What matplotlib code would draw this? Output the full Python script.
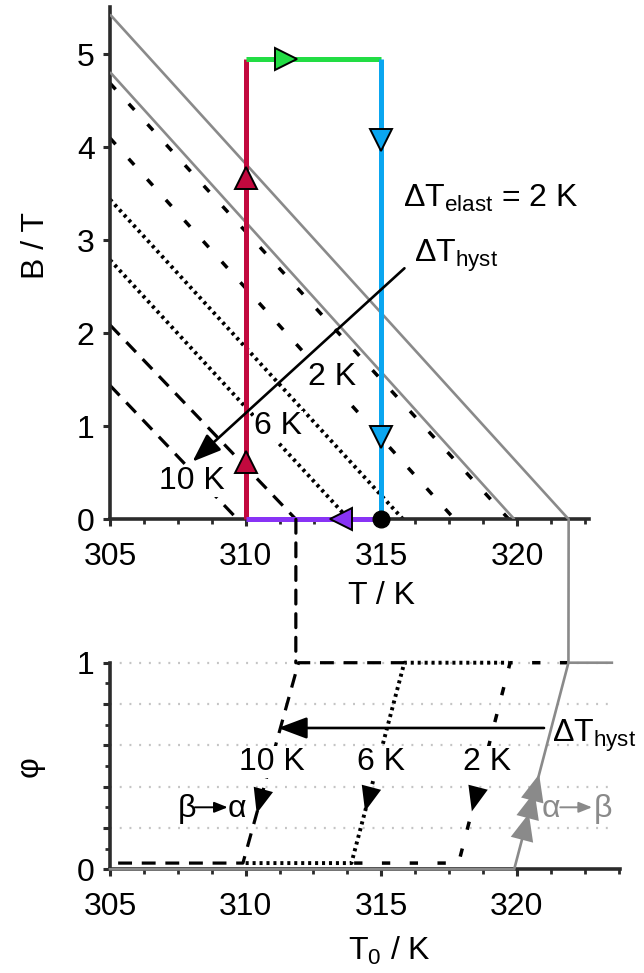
import numpy as np
import matplotlib
matplotlib.use('Agg')
import matplotlib.pyplot as plt
from matplotlib.patches import ConnectionPatch
from matplotlib.ticker import MultipleLocator, FixedLocator, FuncFormatter

plt.rcParams['font.family'] = ['Liberation Sans', 'DejaVu Sans']
plt.rcParams['mathtext.default'] = 'regular'
plt.rcParams['lines.scale_dashes'] = False

# ---------------- data (top: B-T phase diagram) ----------------
T_left = 305.0
gray_T0 = [319.9, 321.9]          # T at B = 0
gray_B_left = [4.81, 5.43]        # B at T = 305
hyst10_T0 = [309.7, 311.85]
hyst10_B_left = [1.44, 2.09]
hyst6_T0 = [313.8, 315.8]
hyst6_B_left = [2.79, 3.44]
hyst2_T0 = [317.7, 319.7]
hyst2_B_left = [4.10, 4.69]

cycle_T_low = 310.0
cycle_T_high = 315.0
cycle_B_max = 4.95
red_arrow_B = [0.62, 3.67]
green_arrow_T = [311.5]
blue_arrow_B = [4.08, 0.89]
purple_arrow_T = [313.5]

hyst_arrow_start = (315.85, 2.70)
hyst_arrow_end = (308.04, 0.62)
top_labels = ['2 K', '6 K', '10 K']
top_label_T = [313.2, 311.2, 308.0]
top_label_B = [1.53, 1.00, 0.41]

# ---------------- data (bottom: phase fraction) ----------------
curve10_T = [305.3, 309.9, 311.95, 316.0]
curve10_phi = [0.03, 0.03, 1.0, 1.0]
curve6_T = [310.0, 313.9, 315.85, 319.7]
curve6_phi = [0.03, 0.03, 1.0, 1.0]
curve2_T = [314.0, 317.85, 319.75, 322.0]
curve2_phi = [0.03, 0.03, 1.0, 1.0]
heat_T = [305.0, 319.9, 321.9, 323.5]
heat_phi = [0.0, 0.0, 1.0, 1.0]

cool_arrow_phi = [0.27, 0.28, 0.28]
heat_arrow_phi = [0.27, 0.375, 0.46]
bottom_labels = ['10 K', '6 K', '2 K']
bottom_label_T = [310.95, 315.0, 318.9]
bottom_label_phi = [0.52, 0.52, 0.52]
bottom_hyst_arrow = (321.0, 311.2, 0.684)

# transition direction labels: (from-phase, to-phase)
cool_label = ('β', 'α')
cool_label_T = [307.84, 308.13, 309.34, 309.68]   # letter, arrow start, arrow end, letter
heat_label = ('α', 'β')
heat_label_T = [321.26, 321.6, 322.77, 323.17]
trans_label_phi = 0.29

# ---------------- styles ----------------
RED = '#C2093E'
GREEN = '#22DD44'
BLUE = '#0AA6F0'
PURPLE = '#8833F5'
GRAY = '#8a8a8a'
SPINE = '#2b2b2b'
DASHED = (0, (10, 7))
DOTTED = (0, (2.2, 2.8))
DASHDOT = (0, (6, 14))
FS = 23

fig = plt.figure(figsize=(6.44, 9.73), dpi=100)
ax1 = fig.add_axes([0.1708, 0.4663, 0.7438, 0.5265])
ax2 = fig.add_axes([0.1708, 0.1066, 0.7919, 0.2123])

for ax in (ax1, ax2):
    for s in ('top', 'right'):
        ax.spines[s].set_visible(False)
    for s in ('left', 'bottom'):
        ax.spines[s].set_linewidth(2.6)
        ax.spines[s].set_color(SPINE)
    ax.tick_params(which='both', direction='out', color=SPINE, labelsize=FS)
    ax.tick_params(which='major', length=5, width=2.2)
    ax.tick_params(which='minor', length=3.5, width=2.0)
    ax.tick_params(axis='x', pad=11)
    ax.tick_params(axis='y', pad=6)

# ---------- top axes ----------
ax1.set_xlim(305, 322.65)
ax1.set_ylim(0, 5.51)
ax1.xaxis.set_major_locator(MultipleLocator(5))
ax1.xaxis.set_minor_locator(MultipleLocator(1.25))
ax1.yaxis.set_major_locator(MultipleLocator(1))

def line_pair(ax, T0s, Bls, **kw):
    for T0, Bl in zip(T0s, Bls):
        ax.plot([T_left, T0], [Bl, 0], solid_capstyle='butt', **kw)

line_pair(ax1, gray_T0, gray_B_left, color=GRAY, lw=1.9, zorder=3)
line_pair(ax1, hyst10_T0, hyst10_B_left, color='black', lw=2.3, linestyle=DASHED, zorder=2)
line_pair(ax1, hyst6_T0, hyst6_B_left, color='black', lw=2.8, linestyle=DOTTED, zorder=2)
line_pair(ax1, hyst2_T0, hyst2_B_left, color='black', lw=2.5, linestyle=DASHDOT, zorder=2)

ax1.plot([cycle_T_low, cycle_T_low], [0, cycle_B_max], color=RED, lw=3.6, zorder=5,
         solid_capstyle='butt', clip_on=False)
ax1.plot([cycle_T_low, cycle_T_high], [cycle_B_max, cycle_B_max], color=GREEN, lw=3.6,
         zorder=5, solid_capstyle='butt')
ax1.plot([cycle_T_high, cycle_T_high], [cycle_B_max, 0], color=BLUE, lw=3.6, zorder=5,
         solid_capstyle='butt', clip_on=False)
ax1.plot([cycle_T_high, cycle_T_low], [0, 0], color=PURPLE, lw=3.6, zorder=5,
         solid_capstyle='butt', clip_on=False)

mk = dict(markersize=16, markeredgecolor='black', markeredgewidth=1.4, linestyle='none',
          zorder=7, clip_on=False)
ax1.plot([cycle_T_low] * len(red_arrow_B), red_arrow_B, marker='^', color=RED, **mk)
ax1.plot(green_arrow_T, [cycle_B_max] * len(green_arrow_T), marker='>', color=GREEN, **mk)
ax1.plot([cycle_T_high] * len(blue_arrow_B), blue_arrow_B, marker='v', color=BLUE, **mk)
ax1.plot(purple_arrow_T, [0] * len(purple_arrow_T), marker='<', color=PURPLE, **mk)
ax1.plot([cycle_T_high], [0], marker='o', color='black', markersize=12, linestyle='none',
         zorder=8, clip_on=False)

ax1.annotate('', xy=hyst_arrow_end, xytext=hyst_arrow_start,
             arrowprops=dict(arrowstyle='-|>,head_length=0.8,head_width=0.3',
                             color='black', lw=1.9, mutation_scale=22,
                             shrinkA=0, shrinkB=0), zorder=6)
ax1.text(316.2, 2.77, r'ΔT$_{hyst}$', fontsize=FS, ha='left', va='baseline', zorder=6)
ax1.text(315.8, 3.36, r'ΔT$_{elast}$ = 2 K', fontsize=FS, ha='left', va='baseline', zorder=6)
for lab, t, b in zip(top_labels, top_label_T, top_label_B):
    ax1.text(t, b, lab, fontsize=FS, ha='center', va='center', zorder=4,
             bbox=dict(facecolor='white', edgecolor='none', pad=0.5))

ax1.set_xlabel('T / K', fontsize=FS, va='center')
ax1.xaxis.set_label_coords(0.566, -0.150)
ax1.set_ylabel('B / T', fontsize=FS, va='center')
ax1.yaxis.set_label_coords(-0.1545, 0.535)

# ---------- bottom axes ----------
ax2.set_xlim(305, 323.8)
ax2.set_ylim(0, 1)
ax2.xaxis.set_major_locator(MultipleLocator(5))
ax2.xaxis.set_minor_locator(MultipleLocator(1.25))
ax2.yaxis.set_major_locator(FixedLocator([0, 0.2, 0.4, 0.6, 0.8, 1.0]))
ax2.yaxis.set_minor_locator(FixedLocator([0.1, 0.3, 0.5, 0.7, 0.9]))
ax2.yaxis.set_major_formatter(FuncFormatter(
    lambda v, p: '%d' % round(v) if abs(v - round(v)) < 1e-6 else ''))
for g in [0.2, 0.4, 0.6, 0.8, 1.0]:
    ax2.axhline(g, xmin=0, xmax=(323.55 - 305) / (323.8 - 305), color='#c4c4c4',
                lw=1.6, linestyle=(0, (1.4, 5.6)), zorder=1, clip_on=False)

ax2.plot(heat_T, heat_phi, color=GRAY, lw=1.9, zorder=4, clip_on=False)
ax2.plot(curve10_T, curve10_phi, color='black', lw=2.3, linestyle=DASHED, zorder=3, clip_on=False)
ax2.plot(curve6_T, curve6_phi, color='black', lw=2.8, linestyle=DOTTED, zorder=3, clip_on=False)
ax2.plot(curve2_T, curve2_phi, color='black', lw=2.5, linestyle=DASHDOT, zorder=3, clip_on=False)

def rise_T(Ts, ph, p):
    return np.interp(p, [ph[1], ph[2]], [Ts[1], Ts[2]])

for (Ts, ph), p in zip([(curve10_T, curve10_phi), (curve6_T, curve6_phi),
                        (curve2_T, curve2_phi)], cool_arrow_phi):
    ax2.annotate('', xy=(rise_T(Ts, ph, p), p),
                 xytext=(rise_T(Ts, ph, p + 0.1), p + 0.1),
                 arrowprops=dict(arrowstyle='-|>,head_length=0.75,head_width=0.3',
                                 color='black', lw=0, mutation_scale=24,
                                 shrinkA=0, shrinkB=0), zorder=6)
for p in heat_arrow_phi:
    ax2.annotate('', xy=(rise_T(heat_T, heat_phi, p), p),
                 xytext=(rise_T(heat_T, heat_phi, p - 0.1), p - 0.1),
                 arrowprops=dict(arrowstyle='-|>,head_length=0.75,head_width=0.32',
                                 color=GRAY, lw=0, mutation_scale=26,
                                 shrinkA=0, shrinkB=0), zorder=6)

x0, x1, yh = bottom_hyst_arrow
ax2.annotate('', xy=(x1, yh), xytext=(x0, yh),
             arrowprops=dict(arrowstyle='-|>,head_length=0.8,head_width=0.3',
                             color='black', lw=1.9, mutation_scale=22,
                             shrinkA=0, shrinkB=0), zorder=6)
ax2.text(321.3, 0.615, r'ΔT$_{hyst}$', fontsize=FS, ha='left', va='baseline', zorder=6)
for lab, t, p in zip(bottom_labels, bottom_label_T, bottom_label_phi):
    ax2.text(t, p, lab, fontsize=FS, ha='center', va='center', zorder=5,
             bbox=dict(facecolor='white', edgecolor='none', pad=0.5))

def trans_label(letters, Ts, color):
    ax2.text(Ts[0], trans_label_phi, letters[0], fontsize=FS, ha='center', va='center',
             color=color, zorder=6)
    ax2.text(Ts[3], trans_label_phi, letters[1], fontsize=FS, ha='center', va='center',
             color=color, zorder=6)
    ax2.annotate('', xy=(Ts[2], trans_label_phi + 0.01), xytext=(Ts[1], trans_label_phi + 0.01),
                 arrowprops=dict(arrowstyle='-|>,head_length=0.5,head_width=0.2',
                                 color=color, lw=1.4, mutation_scale=16,
                                 shrinkA=0, shrinkB=0), zorder=6)

trans_label(cool_label, cool_label_T, 'black')
trans_label(heat_label, heat_label_T, GRAY)

ax2.set_xlabel('T$_0$ / K', fontsize=FS, va='center')
ax2.xaxis.set_label_coords(0.547, -0.395)
ax2.set_ylabel('φ', fontsize=FS, va='center')
ax2.yaxis.set_label_coords(-0.157, 0.495)

# ---------- connectors between panels ----------
con1 = ConnectionPatch(xyA=(hyst10_T0[1], 0), coordsA=ax1.transData,
                       xyB=(hyst10_T0[1], 1), coordsB=ax2.transData,
                       color='black', lw=2.3, linestyle=DASHED, zorder=2)
fig.add_artist(con1)
con2 = ConnectionPatch(xyA=(gray_T0[1], 0), coordsA=ax1.transData,
                       xyB=(gray_T0[1], 1), coordsB=ax2.transData,
                       color=GRAY, lw=1.9, zorder=2)
fig.add_artist(con2)

fig.savefig('out.png', dpi=100)
